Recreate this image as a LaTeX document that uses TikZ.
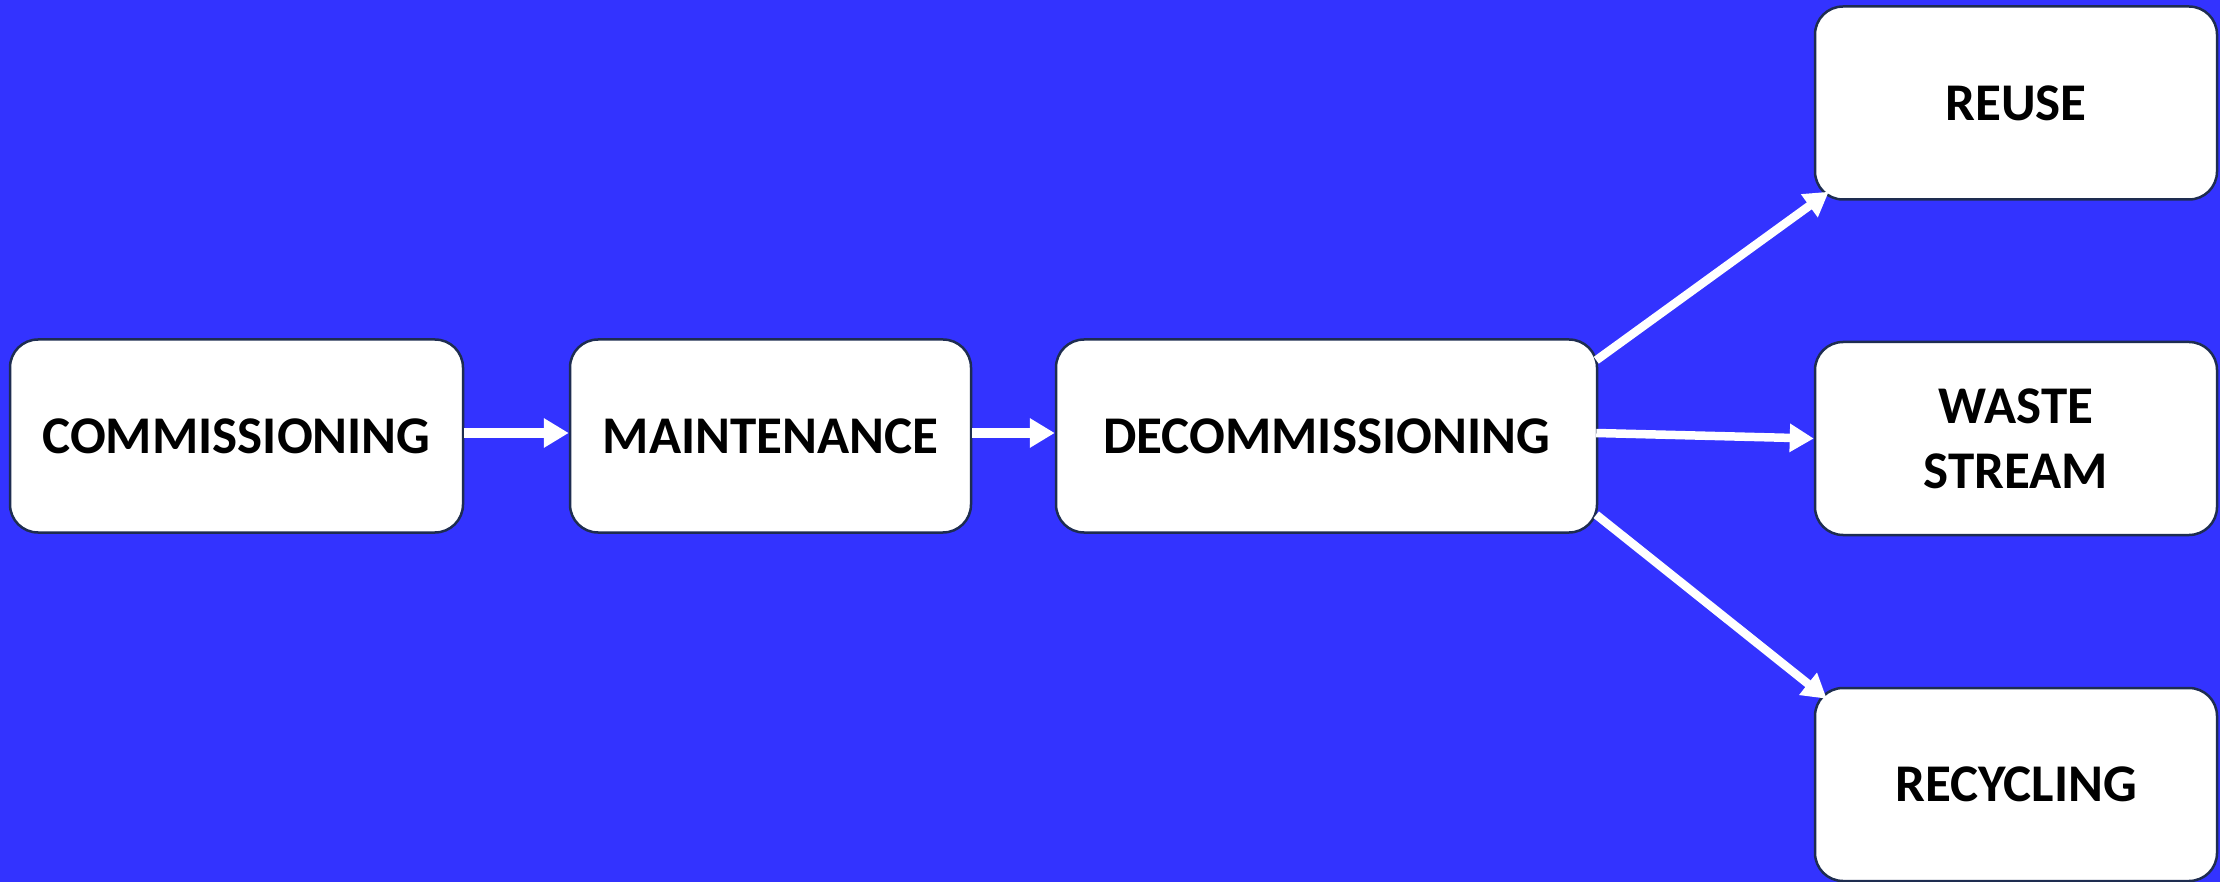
\documentclass[tikz,border=0pt]{standalone}
\usepackage{fontspec}
\setmainfont{Carlito}
\usetikzlibrary{arrows.meta,calc}
\definecolor{bgblue}{RGB}{51,51,255}
\definecolor{edgenavy}{RGB}{30,45,80}
\tikzset{
  stage/.style={draw=edgenavy, line width=2.5pt, fill=white, rounded corners=28pt,
    minimum height=193pt, inner sep=0pt, align=center, text=black,
    font=\fontsize{53}{65}\selectfont\bfseries},
  flow/.style={draw=white, line width=10pt,
    -{Triangle[length=25pt,width=28pt]}},
  branch/.style={draw=white, line width=8.5pt,
    -{Triangle[length=24pt,width=27pt]}}
}
\begin{document}
\begin{tikzpicture}[x=1pt,y=-1pt]
  \fill[bgblue] (0,0) rectangle (2220,882);
  \useasboundingbox (0,0) rectangle (2220,882);

  \node[stage, minimum width=453pt] (comm)   at (236.5,436) {COMMISSIONING};
  \node[stage, minimum width=401pt] (maint)  at (770.5,436) {MAINTENANCE};
  \node[stage, minimum width=541pt] (decomm) at (1326.5,436) {DECOMMISSIONING};
  \node[stage, minimum width=402pt] (reuse)  at (2016,103) {REUSE};
  \node[stage, minimum width=402pt] (waste)  at (2016,438.5) {WASTE\\STREAM};
  \node[stage, minimum width=402pt] (recyc)  at (2016,784.5) {RECYCLING};

  \draw[flow] ([yshift=3pt]comm.east) -- ([yshift=3pt]maint.west);
  \draw[flow] ([yshift=3pt]maint.east) -- ([yshift=3pt]decomm.west);

  \draw[branch] ($(decomm.north east)+(-2,22)$) -- ($(reuse.south west)+(15,-9)$);
  \draw[branch] ($(decomm.east)+(-2,-3)$) -- (waste.west);
  \draw[branch] ($(decomm.south east)+(-2,-19)$) -- ($(recyc.north west)+(13,12)$);
\end{tikzpicture}
\end{document}
